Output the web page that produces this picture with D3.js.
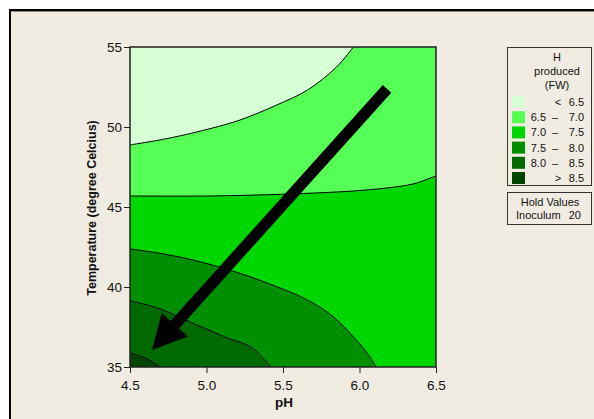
<!DOCTYPE html>
<html>
<head>
<meta charset="utf-8">
<script src="https://cdn.jsdelivr.net/npm/d3@7"></script>
<style>
  body { margin: 0; background: #fff; }
  svg { display: block; }
  text { font-family: "Liberation Sans", Arial, sans-serif; fill: #111; }
</style>
</head>
<body>
<svg id="chart" width="594" height="419"></svg>
<script>
// contour boundaries, [pH, temperature]
const line65 = [[4.5, 48.88], [4.76, 49.31], [5.04, 49.94], [5.22, 50.44], [5.46, 51.38], [5.66, 52.31], [5.85, 53.75], [5.96, 55.0]];
const line70 = [[4.5, 45.69], [5.04, 45.69], [5.53, 45.81], [5.96, 46.0], [6.18, 46.19], [6.35, 46.44], [6.5, 46.94]];
const line75 = [[4.5, 42.38], [4.68, 42.13], [4.91, 41.69], [5.19, 40.94], [5.38, 40.31], [5.66, 39.19], [5.83, 38.13], [5.96, 36.88], [6.05, 35.88], [6.11, 35.0]];
const line80 = [[4.5, 39.13], [4.68, 38.69], [4.91, 37.75], [5.12, 36.88], [5.30, 36.19], [5.42, 35.0]];
const line85 = [[4.5, 35.88], [4.60, 35.56], [4.70, 35.0]];

const levels = ["<", "6.5", "7.0", "7.5", "8.0", ">"];
const legendLow = ["", "6.5", "7.0", "7.5", "8.0", ""];
const legendHigh = ["6.5", "7.0", "7.5", "8.0", "8.5", "8.5"];
const colors = ["#d6ffd6", "#55ff55", "#00d700", "#008f00", "#006a00", "#004600"];

const xTicks = [4.5, 5.0, 5.5, 6.0, 6.5];
const yTicks = [35, 40, 45, 50, 55];

const arrowFrom = [6.18, 52.38];
const arrowTo = [4.644, 36.06];

const svg = d3.select("#chart");

// panel frame
svg.append("rect").attr("x", 10).attr("y", 10).attr("width", 700).attr("height", 500)
  .attr("fill", "#f0ece2").attr("stroke", "#000").attr("stroke-width", 2);
svg.append("line").attr("x1", 11).attr("x2", 700).attr("y1", 11.5).attr("y2", 11.5)
  .attr("stroke", "#8a877f").attr("stroke-width", 1);

const x = d3.scaleLinear().domain([4.5, 6.5]).range([130, 436]);
const y = d3.scaleLinear().domain([35, 55]).range([367, 47]);

const line = d3.line().x(d => x(d[0])).y(d => y(d[1])).curve(d3.curveCatmullRom.alpha(0.5));
const poly = pts => pts.map(d => "L" + x(d[0]) + "," + y(d[1])).join("");

const plot = svg.append("g");
// base fill: lowest level
plot.append("rect").attr("x", x(4.5)).attr("y", y(55))
  .attr("width", x(6.5) - x(4.5)).attr("height", y(35) - y(55)).attr("fill", colors[0]);

const bounds = [line65, line70, line75, line80, line85];
const closers = [
  [[6.5, 55], [6.5, 35], [4.5, 35]],
  [[6.5, 35], [4.5, 35]],
  [[4.5, 35]],
  [[4.5, 35]],
  [[4.5, 35]]
];
bounds.forEach((b, i) => {
  plot.append("path").attr("d", line(b) + poly(closers[i]) + "Z").attr("fill", colors[i + 1]);
});
bounds.forEach(l => {
  plot.append("path").attr("d", line(l)).attr("fill", "none")
    .attr("stroke", "#000").attr("stroke-width", 1);
});

// plot border
plot.append("rect").attr("x", x(4.5)).attr("y", y(55))
  .attr("width", x(6.5) - x(4.5)).attr("height", y(35) - y(55))
  .attr("fill", "none").attr("stroke", "#222").attr("stroke-width", 1.5);

// axes
const xAxis = svg.append("g").attr("transform", `translate(0,${y(35)})`)
  .call(d3.axisBottom(x).tickValues(xTicks).tickFormat(d3.format(".1f")).tickSize(6).tickSizeOuter(0));
const yAxis = svg.append("g").attr("transform", `translate(${x(4.5)},0)`)
  .call(d3.axisLeft(y).tickValues(yTicks).tickFormat(d3.format("d")).tickSize(6).tickSizeOuter(0));
[xAxis, yAxis].forEach(a => {
  a.select(".domain").remove();
  a.selectAll("line").attr("stroke", "#222");
  a.selectAll("text").attr("font-size", 13.5).attr("font-family", "Liberation Sans, Arial, sans-serif").attr("fill", "#111");
});
xAxis.selectAll("text").attr("dy", "1.0em");
yAxis.selectAll("text").attr("dx", "1px");

svg.append("text").attr("x", 284).attr("y", 407).attr("text-anchor", "middle")
  .attr("font-size", 13.5).attr("font-weight", "bold").text("pH");
svg.append("text").attr("transform", "translate(96,208) rotate(-90)").attr("text-anchor", "middle")
  .attr("font-size", 12.5).attr("font-weight", "bold").text("Temperature (degree Celcius)");

// arrow
const p0 = [x(arrowFrom[0]), y(arrowFrom[1])];
const p1 = [x(arrowTo[0]), y(arrowTo[1])];
const len = Math.hypot(p1[0] - p0[0], p1[1] - p0[1]);
const ux = (p1[0] - p0[0]) / len, uy = (p1[1] - p0[1]) / len;
const nx = -uy, ny = ux;
const sw = 5.7, hw = 17.5, hl = 34;
const bx = p1[0] - ux * hl, by = p1[1] - uy * hl;
const arrowPts = [
  [p0[0] + nx * sw, p0[1] + ny * sw],
  [bx + nx * sw, by + ny * sw],
  [bx + nx * hw, by + ny * hw],
  p1,
  [bx - nx * hw, by - ny * hw],
  [bx - nx * sw, by - ny * sw],
  [p0[0] - nx * sw, p0[1] - ny * sw]
];
svg.append("path").attr("d", d3.line()(arrowPts) + "Z").attr("fill", "#000");

// legend
const fs = 11;
const lg = svg.append("g");
lg.append("rect").attr("x", 507.5).attr("y", 47.5).attr("width", 84).attr("height", 138)
  .attr("fill", "none").attr("stroke", "#333").attr("stroke-width", 1);
["H", "produced", "(FW)"].forEach((t, i) => {
  lg.append("text").attr("x", 557).attr("y", 61 + i * 14).attr("text-anchor", "middle")
    .attr("font-size", fs).text(t);
});
colors.forEach((c, i) => {
  const yy = 96 + i * 15.2;
  lg.append("rect").attr("x", 512).attr("y", yy).attr("width", 13).attr("height", 12).attr("fill", c);
  if (legendLow[i]) {
    lg.append("text").attr("x", 546).attr("y", yy + 10).attr("text-anchor", "end").attr("font-size", fs).text(legendLow[i]);
    lg.append("text").attr("x", 555).attr("y", yy + 10).attr("text-anchor", "middle").attr("font-size", fs).text("\u2013");
  } else {
    lg.append("text").attr("x", 558).attr("y", yy + 10).attr("text-anchor", "middle").attr("font-size", fs).text(levels[i]);
  }
  lg.append("text").attr("x", 584).attr("y", yy + 10).attr("text-anchor", "end").attr("font-size", fs).text(legendHigh[i]);
});

lg.append("rect").attr("x", 507.5).attr("y", 192.5).attr("width", 84).attr("height", 32)
  .attr("fill", "none").attr("stroke", "#333").attr("stroke-width", 1);
lg.append("text").attr("x", 550).attr("y", 206).attr("text-anchor", "middle").attr("font-size", fs).text("Hold Values");
lg.append("text").attr("x", 516).attr("y", 219).attr("font-size", fs).text("Inoculum");
lg.append("text").attr("x", 581).attr("y", 219).attr("text-anchor", "end").attr("font-size", fs).text("20");
</script>
</body>
</html>
